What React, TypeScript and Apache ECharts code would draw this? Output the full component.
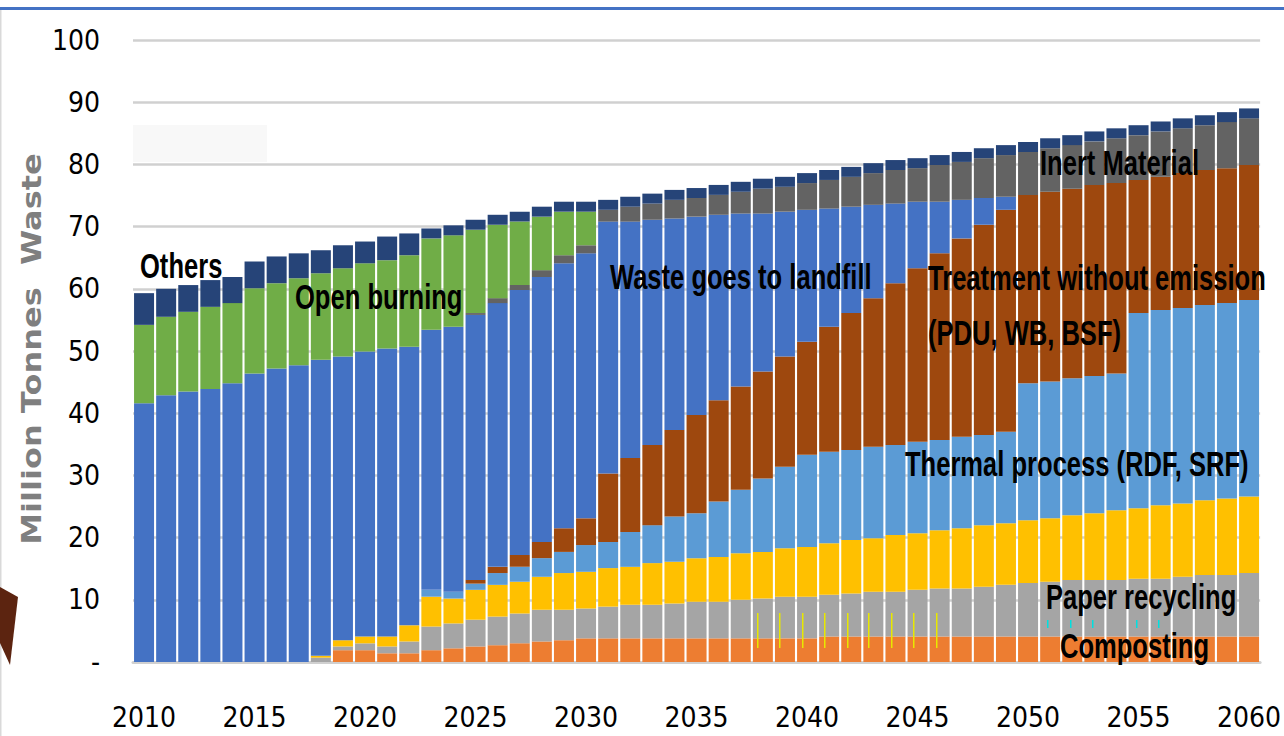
import React, { useEffect, useRef } from "react";
import * as echarts from "echarts";

const years = [
  "2010","2011","2012","2013","2014","2015","2016","2017","2018","2019",
  "2020","2021","2022","2023","2024","2025","2026","2027","2028","2029",
  "2030","2031","2032","2033","2034","2035","2036","2037","2038","2039",
  "2040","2041","2042","2043","2044","2045","2046","2047","2048","2049",
  "2050","2051","2052","2053","2054","2055","2056","2057","2058","2059","2060",
];

const composting = [
  0, 0, 0, 0, 0, 0, 0, 0, 0, 1.9,
  1.9, 1.4, 1.4, 1.9, 2.2, 2.5, 2.7, 3.0, 3.3, 3.5,
  3.8, 3.8, 3.8, 3.8, 3.8, 3.8, 3.8, 3.8, 3.8, 3.8,
  3.8, 4.1, 4.1, 4.1, 4.1, 4.1, 4.1, 4.1, 4.1, 4.1,
  4.1, 4.1, 4.1, 4.1, 4.1, 4.1, 4.1, 4.1, 4.1, 4.1, 4.1,
];
const paperRecycling = [
  0, 0, 0, 0, 0, 0, 0, 0, 0.7, 0.6,
  1.1, 1.1, 1.9, 3.8, 4.0, 4.3, 4.6, 4.8, 5.1, 4.9,
  4.8, 5.1, 5.4, 5.4, 5.6, 5.9, 5.9, 6.2, 6.4, 6.7,
  6.7, 6.7, 6.9, 7.2, 7.2, 7.5, 7.7, 7.7, 8.0, 8.3,
  8.6, 8.8, 9.1, 9.1, 9.1, 9.3, 9.3, 9.6, 9.9, 9.9, 10.2,
];
const plasticRecycling = [
  0, 0, 0, 0, 0, 0, 0, 0, 0.3, 1.0,
  1.1, 1.6, 2.6, 4.8, 4.0, 4.8, 5.1, 5.1, 5.3, 5.9,
  5.9, 6.2, 6.1, 6.7, 6.7, 7.0, 7.2, 7.5, 7.5, 7.8,
  8.0, 8.3, 8.6, 8.6, 9.1, 9.1, 9.4, 9.7, 9.9, 9.9,
  10.1, 10.2, 10.4, 10.7, 11.2, 11.3, 11.8, 11.8, 12.0, 12.3, 12.3,
];
const thermalProcess = [
  0, 0, 0, 0, 0, 0, 0, 0, 0, 0,
  0, 0, 0, 1.1, 1.1, 1.0, 1.9, 2.4, 3.0, 3.4,
  4.3, 4.2, 5.6, 6.1, 7.3, 7.2, 8.9, 10.2, 11.8, 13.1,
  14.8, 14.7, 14.5, 14.7, 14.5, 14.7, 14.5, 14.7, 14.5, 14.7,
  22.0, 22.0, 22.0, 22.1, 22.0, 31.4, 31.4, 31.4, 31.4, 31.4, 31.6,
];
const treatmentNoEmission = [
  0, 0, 0, 0, 0, 0, 0, 0, 0, 0,
  0, 0, 0, 0, 0, 0.6, 1.0, 1.9, 2.6, 3.8,
  4.3, 11.0, 11.9, 12.9, 13.9, 15.8, 16.3, 16.6, 17.2, 17.7,
  18.2, 20.1, 22.0, 23.9, 26.0, 27.9, 30.0, 31.9, 33.8, 35.7,
  30.3, 30.5, 30.5, 30.7, 30.6, 21.4, 21.4, 21.7, 21.7, 21.7, 21.7,
];
const landfill = [
  41.6, 42.9, 43.5, 43.9, 44.8, 46.4, 47.2, 47.7, 47.6, 45.6,
  45.8, 46.3, 44.8, 41.8, 42.6, 42.6, 42.4, 42.6, 42.6, 42.6,
  42.6, 40.5, 38.0, 36.2, 34.0, 31.9, 29.8, 27.8, 25.4, 23.3,
  21.2, 19.0, 17.1, 15.0, 12.8, 10.7, 8.3, 6.2, 4.3, 2.1,
  0, 0, 0, 0, 0, 0, 0, 0, 0, 0, 0,
];
const inertMaterial = [
  0, 0, 0, 0, 0, 0, 0, 0, 0, 0,
  0, 0, 0, 0, 0, 0.3, 0.8, 0.8, 1.1, 1.3,
  1.3, 1.9, 2.4, 2.6, 3.0, 3.0, 3.2, 3.5, 4.0, 4.0,
  4.3, 4.6, 4.8, 5.1, 5.4, 5.4, 5.9, 6.1, 6.4, 6.7,
  6.9, 7.0, 7.0, 7.0, 7.2, 7.2, 7.3, 7.2, 7.2, 7.4, 7.5,
];
const openBurning = [
  12.6, 12.6, 12.8, 13.2, 12.9, 13.7, 13.7, 14.0, 13.9, 14.2,
  14.2, 14.2, 14.7, 14.7, 14.7, 13.4, 11.8, 10.2, 8.6, 7.0,
  5.4, 0, 0, 0, 0, 0, 0, 0, 0, 0,
  0, 0, 0, 0, 0, 0, 0, 0, 0, 0,
  0, 0, 0, 0, 0, 0, 0, 0, 0, 0, 0,
];
const others = [
  5.1, 4.5, 4.3, 4.3, 4.2, 4.3, 4.3, 4.0, 3.7, 3.7,
  3.5, 3.8, 3.5, 1.6, 1.6, 1.6, 1.6, 1.6, 1.6, 1.6,
  1.6, 1.6, 1.6, 1.6, 1.6, 1.6, 1.6, 1.6, 1.6, 1.6,
  1.6, 1.6, 1.6, 1.6, 1.6, 1.6, 1.6, 1.6, 1.6, 1.6,
  1.6, 1.6, 1.6, 1.6, 1.6, 1.6, 1.6, 1.6, 1.6, 1.6, 1.6,
];

const seriesDefs = [
  { name: "Composting", data: composting, color: "#ED7D31" },
  { name: "Paper recycling", data: paperRecycling, color: "#A5A5A5" },
  { name: "Plastic recycling", data: plasticRecycling, color: "#FFC000" },
  { name: "Thermal process (RDF, SRF)", data: thermalProcess, color: "#5B9BD5" },
  { name: "Treatment without emission (PDU, WB, BSF)", data: treatmentNoEmission, color: "#9E480E" },
  { name: "Waste goes to landfill", data: landfill, color: "#4472C4" },
  { name: "Inert Material", data: inertMaterial, color: "#636363" },
  { name: "Open burning", data: openBurning, color: "#70AD47" },
  { name: "Others", data: others, color: "#264478" },
];

const AXIS_FONT = "'DejaVu Sans Condensed', 'Liberation Sans', sans-serif";

function label(text: string, x: number, y: number) {
  return {
    type: "text",
    x,
    y,
    z: 100,
    scaleX: 0.71,
    style: {
      text,
      fill: "#000",
      font: "bold 36px 'Liberation Sans', Arial, sans-serif",
      textVerticalAlign: "middle",
      textAlign: "left",
    },
  };
}

const yellowMarksX = [757, 779, 802, 824, 847, 868, 891, 913, 936];
const cyanMarksX = [1047, 1070, 1092, 1136, 1158];

export default function App() {
  const ref = useRef<HTMLDivElement>(null);
  useEffect(() => {
    const chart = echarts.init(ref.current!, null, { renderer: "svg" });
    chart.setOption({
      animation: false,
      backgroundColor: "#fff",
      grid: { left: 133, right: 13, top: 40, bottom: 74, containLabel: false },
      xAxis: {
        type: "category",
        data: years,
        axisLine: { lineStyle: { color: "#d0d0d0", width: 3 } },
        axisTick: { show: false },
        axisLabel: {
          interval: 4,
          margin: 41,
          color: "#000",
          fontSize: 28,
          fontFamily: AXIS_FONT,
        },
      },
      yAxis: {
        type: "value",
        min: 0,
        max: 100,
        interval: 10,
        axisLine: { show: false },
        axisTick: { show: false },
        splitLine: { lineStyle: { color: "#d0d0d0", width: 2.5 } },
        axisLabel: {
          margin: 33,
          color: "#000",
          fontSize: 28,
          fontFamily: AXIS_FONT,
          formatter: (v: number) => (v === 0 ? "-" : String(v)),
        },
      },
      series: seriesDefs.map((s) => ({
        name: s.name,
        type: "bar",
        stack: "total",
        barWidth: 20,
        data: s.data,
        itemStyle: { color: s.color },
        emphasis: { disabled: true },
      })),
      graphic: [
        { type: "rect", shape: { x: 0, y: 7, width: 1284, height: 3 }, style: { fill: "#4472C4" } },
        { type: "rect", shape: { x: 0, y: 10, width: 1.5, height: 726 }, style: { fill: "#d9d9d9" } },
        { type: "rect", shape: { x: 133, y: 125, width: 134, height: 37 }, style: { fill: "#f8f8f8" } },
        {
          type: "polygon",
          shape: { points: [[0, 587], [18, 597], [10, 665], [0, 643]] },
          style: { fill: "#5C2410" },
        },
        ...yellowMarksX.map((x) => ({
          type: "rect",
          z: 50,
          shape: { x, y: 613, width: 1.5, height: 35 },
          style: { fill: "#E8E800" },
        })),
        ...cyanMarksX.map((x) => ({
          type: "rect",
          z: 50,
          shape: { x, y: 620, width: 1.5, height: 8 },
          style: { fill: "#00E0E0" },
        })),
        {
          type: "text",
          x: 31,
          y: 349,
          rotation: Math.PI / 2,
          scaleY: 0.85,
          style: {
            text: "Million Tonnes  Waste",
            fill: "#7F7F7F",
            font: "bold 32px 'DejaVu Sans', sans-serif",
            textAlign: "center",
            textVerticalAlign: "middle",
          },
        },
        label("Others", 140, 266),
        label("Open burning", 295, 297),
        label("Waste goes to landfill", 610, 277),
        label("Treatment without emission", 928, 278),
        label("(PDU, WB, BSF)", 928, 333),
        label("Inert Material", 1040, 163),
        label("Thermal process (RDF, SRF)", 905, 464),
        label("Paper recycling", 1046, 597),
        label("Composting", 1060, 646),
      ],
    });
    return () => chart.dispose();
  }, []);
  return (
    <div
      ref={ref}
      style={{ position: "fixed", left: 0, top: 0, width: 1284, height: 736 }}
    />
  );
}
